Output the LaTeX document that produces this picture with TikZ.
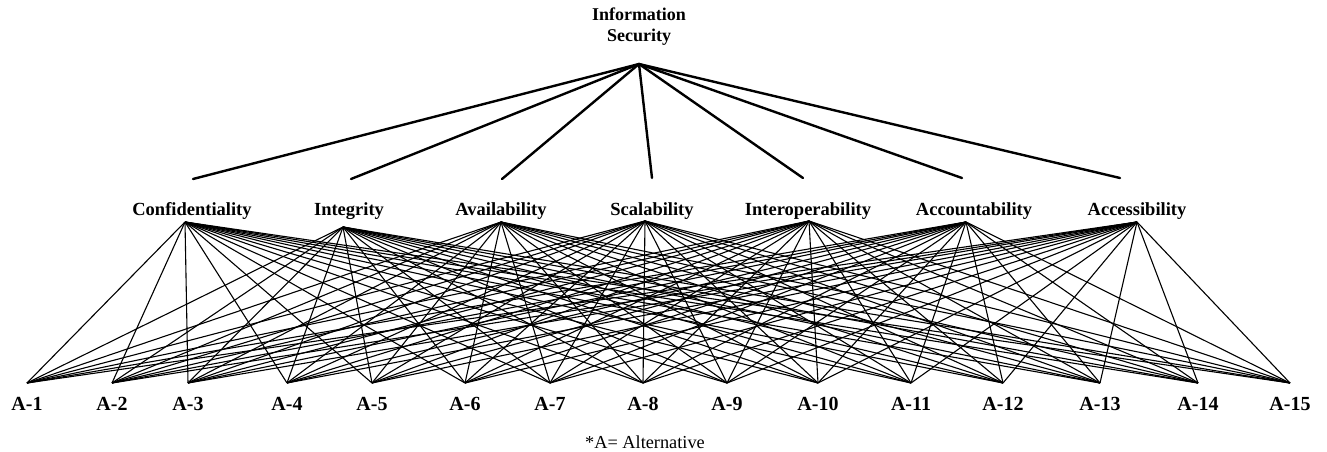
\documentclass[tikz,border=0pt]{standalone}
\usepackage{fontspec}
\setmainfont{Liberation Serif}
\begin{document}
\begin{tikzpicture}[x=1pt,y=-1pt,
  lbl/.style={inner sep=0pt,anchor=base,font=\bfseries\fontsize{18.5}{21}\selectfont},
  alt/.style={inner sep=0pt,anchor=base,font=\bfseries\fontsize{20}{24}\selectfont},
  topline/.style={line width=2.4pt,line cap=round},
  link/.style={line width=1.1pt,black}]
\useasboundingbox (0,0) rectangle (1327,452);
% goal
\node[inner sep=0pt,anchor=base,align=center,font=\bfseries\fontsize{18}{21}\selectfont] (goal) at (639,42) {Information\\Security};
\coordinate (top) at (639,64);
% criteria
\foreach \n/\t/\lx/\tx/\ty/\ax/\ay in {
  1/Confidentiality/192/193/179/185/222,
  2/Integrity/349/351/179/343/227,
  3/Availability/501/502/179/501/222,
  4/Scalability/652/652/178/645/221,
  5/Interoperability/808/803/178/809/221,
  6/Accountability/974/962/178/966/222,
  7/Accessibility/1137/1120/178/1137/222}{
  \node[lbl] (crit\n) at (\lx,215) {\t};
  \coordinate (ct\n) at (\tx,\ty);
  \coordinate (c\n) at (\ax,\ay);
  \draw[topline] (top) -- (ct\n);
}
% alternatives
\foreach \j/\x in {1/27,2/112,3/188,4/287,5/372,6/465,7/550,8/643,9/727,10/818,11/911,12/1003,13/1100,14/1198,15/1290}{
  \node[alt] (alt\j) at (\x,410) {A-\j};
  \coordinate (a\j) at (\x,383);
}
\foreach \n in {1,...,7}{
  \foreach \j in {1,...,15}{
    \draw[link] (c\n) -- (a\j);
  }
}
\node[inner sep=0pt,anchor=base,font=\fontsize{18.3}{22}\selectfont] (note) at (645,448) {*A= Alternative};
\end{tikzpicture}
\end{document}
